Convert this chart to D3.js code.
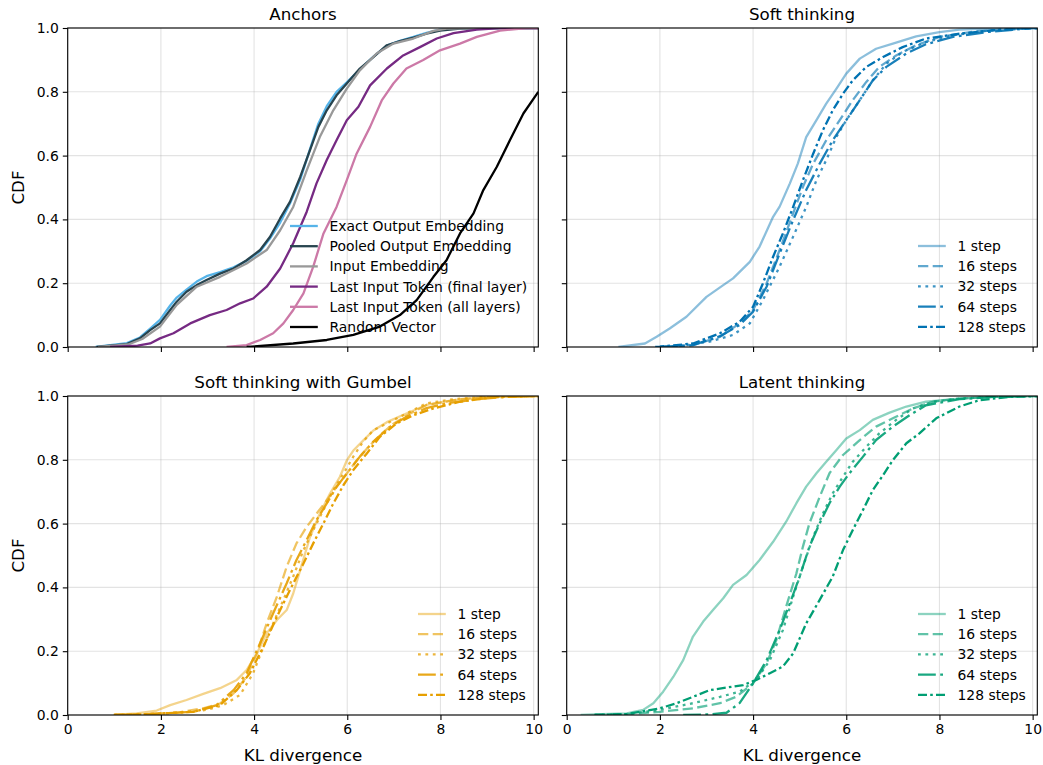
<!DOCTYPE html>
<html><head><meta charset="utf-8">
<script src="https://cdn.jsdelivr.net/npm/d3@7"></script>
<style>body{margin:0;background:#fff} text{font-family:"DejaVu Sans",sans-serif;fill:#000}</style>
</head><body>
<svg id="c" width="1043" height="765"></svg>
<script>
// ---------- data ----------
const xTicks = [0, 2, 4, 6, 8, 10];
const yTicks = [0.0, 0.2, 0.4, 0.6, 0.8, 1.0];
const panelTitles = ["Anchors", "Soft thinking", "Soft thinking with Gumbel", "Latent thinking"];
const anchorNames = ["Exact Output Embedding", "Pooled Output Embedding", "Input Embedding",
  "Last Input Token (final layer)", "Last Input Token (all layers)", "Random Vector"];
const stepNames = ["1 step", "16 steps", "32 steps", "64 steps", "128 steps"];

const exactOutput = [[0.6,0],[1.27,0.012],[1.55,0.03],[1.77,0.058],[1.98,0.085],[2.2,0.13],[2.34,0.155],[2.55,0.18],[2.77,0.205],[2.98,0.222],[3.27,0.235],[3.56,0.25],[3.84,0.27],[4.13,0.3],[4.34,0.34],[4.56,0.39],[4.77,0.45],[4.99,0.525],[5.2,0.62],[5.38,0.7],[5.56,0.755],[5.77,0.8],[5.99,0.83],[6.27,0.87],[6.56,0.91],[6.85,0.945],[7.13,0.96],[7.42,0.972],[7.7,0.985],[7.99,0.995],[8.3,1],[10.1,1]];
const pooledOutput = [[0.62,0],[1.27,0.009],[1.55,0.027],[1.77,0.053],[1.98,0.074],[2.2,0.116],[2.34,0.142],[2.55,0.173],[2.77,0.194],[2.98,0.21],[3.27,0.23],[3.56,0.246],[3.84,0.272],[4.13,0.304],[4.34,0.345],[4.56,0.403],[4.77,0.455],[4.99,0.533],[5.2,0.617],[5.38,0.69],[5.56,0.742],[5.77,0.789],[5.99,0.826],[6.27,0.873],[6.56,0.909],[6.85,0.946],[7.13,0.959],[7.42,0.97],[7.7,0.982],[7.99,0.992],[8.42,0.998],[9.06,1],[10.1,1]];
const inputEmb = [[0.65,0],[1.3,0.008],[1.6,0.025],[1.98,0.064],[2.34,0.132],[2.77,0.189],[3.27,0.22],[3.84,0.262],[4.27,0.304],[4.56,0.366],[4.84,0.439],[5.13,0.554],[5.41,0.658],[5.7,0.742],[5.99,0.81],[6.27,0.867],[6.63,0.92],[6.99,0.951],[7.42,0.967],[7.85,0.991],[8.13,0.998],[8.8,1],[10.1,1]];
const lastFinal = [[0.91,0],[1.5,0.004],[1.77,0.011],[1.98,0.027],[2.27,0.043],[2.63,0.074],[3.05,0.1],[3.41,0.116],[3.7,0.137],[3.98,0.152],[4.27,0.189],[4.56,0.246],[4.84,0.325],[5.13,0.424],[5.34,0.513],[5.56,0.586],[5.77,0.648],[5.99,0.711],[6.24,0.753],[6.49,0.82],[6.85,0.873],[7.2,0.914],[7.56,0.94],[7.92,0.967],[8.28,0.984],[8.78,0.995],[9.28,1],[10.1,1]];
const lastAll = [[3.41,0],[3.84,0.006],[4.13,0.022],[4.41,0.043],[4.63,0.074],[4.84,0.116],[5.06,0.168],[5.27,0.252],[5.49,0.356],[5.77,0.439],[5.99,0.523],[6.2,0.606],[6.49,0.69],[6.74,0.773],[6.99,0.826],[7.27,0.873],[7.63,0.9],[7.99,0.93],[8.42,0.951],[8.78,0.972],[9.28,0.992],[9.85,1],[10.1,1]];
const randomVec = [[3.84,0],[4.84,0.011],[5.56,0.022],[6.13,0.038],[6.7,0.064],[7.13,0.1],[7.49,0.147],[7.85,0.22],[8.13,0.272],[8.42,0.356],[8.71,0.419],[8.92,0.492],[9.21,0.565],[9.49,0.648],[9.78,0.732],[10.1,0.8]];

const soft1 = [[1.11,0],[1.68,0.011],[1.93,0.032],[2.21,0.058],[2.57,0.095],[3.0,0.157],[3.36,0.194],[3.57,0.215],[3.93,0.267],[4.14,0.315],[4.43,0.408],[4.57,0.44],[4.79,0.513],[4.96,0.575],[5.14,0.658],[5.36,0.711],[5.57,0.763],[5.79,0.81],[6.0,0.857],[6.29,0.904],[6.64,0.935],[7.0,0.951],[7.5,0.974],[8.0,0.987],[8.43,0.995],[9.14,0.999],[10.1,1]];
const soft16 = [[2.0,0],[2.71,0.006],[3.29,0.032],[3.71,0.074],[4.0,0.116],[4.29,0.199],[4.57,0.304],[4.86,0.419],[5.07,0.502],[5.29,0.575],[5.57,0.648],[5.86,0.711],[6.14,0.774],[6.43,0.831],[6.71,0.878],[7.07,0.914],[7.5,0.946],[8.0,0.972],[8.79,0.99],[10,1],[10.1,1]];
const soft32 = [[2.1,0],[2.36,0.001],[3.07,0.017],[3.57,0.038],[3.93,0.074],[4.21,0.147],[4.57,0.252],[4.86,0.346],[5.14,0.439],[5.36,0.523],[5.57,0.586],[5.79,0.659],[6.0,0.711],[6.29,0.774],[6.57,0.836],[6.86,0.888],[7.21,0.925],[7.71,0.956],[8.29,0.977],[9.0,0.991],[10,1],[10.1,1]];
const soft64 = [[2.0,0],[2.71,0.006],[3.29,0.034],[3.71,0.069],[4.0,0.111],[4.29,0.189],[4.57,0.293],[4.86,0.398],[5.14,0.492],[5.43,0.575],[5.71,0.648],[6.0,0.711],[6.29,0.774],[6.57,0.836],[6.86,0.878],[7.29,0.92],[7.71,0.949],[8.29,0.972],[9.0,0.987],[10,1],[10.1,1]];
const soft128 = [[1.9,0],[2.0,0.001],[2.71,0.011],[3.29,0.043],[3.71,0.079],[4.0,0.126],[4.21,0.199],[4.43,0.283],[4.64,0.356],[4.86,0.439],[5.07,0.523],[5.29,0.606],[5.5,0.68],[5.71,0.742],[5.93,0.794],[6.14,0.836],[6.43,0.878],[6.79,0.909],[7.21,0.94],[7.71,0.967],[8.43,0.982],[9.14,0.993],[10,1],[10.1,1]];

const gum1 = [[0.98,0],[1.48,0.005],[1.91,0.014],[2.2,0.031],[2.55,0.047],[2.91,0.066],[3.27,0.084],[3.63,0.11],[3.84,0.141],[4.06,0.193],[4.27,0.256],[4.49,0.298],[4.7,0.329],[4.84,0.381],[4.99,0.454],[5.2,0.558],[5.41,0.631],[5.63,0.694],[5.84,0.746],[5.99,0.798],[6.13,0.829],[6.34,0.86],[6.56,0.892],[6.85,0.918],[7.27,0.945],[7.7,0.972],[8.28,0.987],[9.0,0.997],[10.1,1]];
const gum16 = [[1.0,0],[1.62,0.002],[2.34,0.007],[2.91,0.021],[3.27,0.036],[3.56,0.068],[3.84,0.12],[4.06,0.193],[4.27,0.287],[4.49,0.371],[4.7,0.465],[4.91,0.538],[5.13,0.59],[5.34,0.631],[5.56,0.673],[5.77,0.715],[5.99,0.757],[6.2,0.798],[6.42,0.835],[6.7,0.877],[6.99,0.913],[7.35,0.945],[7.7,0.972],[8.42,0.99],[9.1,0.998],[10.1,1]];
const gum32 = [[1.0,0],[1.62,0.002],[2.34,0.007],[2.98,0.016],[3.34,0.031],[3.7,0.063],[3.98,0.131],[4.2,0.214],[4.41,0.287],[4.63,0.361],[4.84,0.434],[5.06,0.517],[5.27,0.58],[5.49,0.643],[5.7,0.705],[5.92,0.757],[6.13,0.81],[6.34,0.857],[6.56,0.893],[6.92,0.919],[7.27,0.945],[7.7,0.977],[8.28,0.99],[9.0,0.998],[10.1,1]];
const gum64 = [[1.0,0],[1.62,0.002],[2.7,0.01],[3.2,0.031],[3.56,0.078],[3.84,0.131],[4.13,0.225],[4.41,0.319],[4.7,0.413],[4.91,0.486],[5.13,0.549],[5.34,0.611],[5.56,0.663],[5.77,0.715],[5.99,0.757],[6.27,0.81],[6.56,0.857],[6.92,0.904],[7.27,0.935],[7.7,0.962],[8.13,0.977],[8.78,0.99],[9.5,0.998],[10.1,1]];
const gum128 = [[1.0,0],[1.62,0.002],[2.7,0.01],[3.27,0.031],[3.63,0.078],[3.91,0.131],[4.2,0.214],[4.49,0.308],[4.77,0.392],[5.06,0.475],[5.27,0.538],[5.49,0.601],[5.7,0.663],[5.92,0.721],[6.13,0.768],[6.42,0.82],[6.7,0.872],[7.06,0.914],[7.42,0.94],[7.85,0.961],[8.42,0.982],[9.1,0.996],[10.1,1]];

const lat1 = [[0.3,0],[0.57,0.002],[1.29,0.005],[1.64,0.016],[1.86,0.037],[2.07,0.073],[2.29,0.12],[2.5,0.172],[2.71,0.246],[2.93,0.293],[3.14,0.329],[3.36,0.366],[3.57,0.408],[3.86,0.439],[4.14,0.486],[4.43,0.543],[4.71,0.606],[4.93,0.664],[5.14,0.716],[5.36,0.758],[5.57,0.794],[5.79,0.831],[6.0,0.867],[6.29,0.893],[6.57,0.925],[6.93,0.948],[7.29,0.967],[7.71,0.982],[8.43,0.992],[9.14,0.997],[10.1,1]];
const lat16 = [[0.6,0],[1.29,0.003],[2.0,0.01],[2.71,0.021],[3.29,0.037],[3.64,0.057],[4.0,0.099],[4.29,0.162],[4.5,0.235],[4.71,0.34],[4.93,0.444],[5.07,0.528],[5.21,0.601],[5.43,0.684],[5.64,0.758],[5.93,0.815],[6.29,0.862],[6.64,0.904],[7.0,0.93],[7.43,0.961],[7.86,0.982],[8.43,0.992],[9.14,0.997],[10.1,1]];
const lat32 = [[0.6,0],[1.29,0.003],[2.0,0.016],[2.71,0.037],[3.29,0.057],[3.71,0.073],[4.07,0.11],[4.36,0.172],[4.64,0.266],[4.86,0.371],[5.07,0.465],[5.29,0.559],[5.5,0.632],[5.71,0.695],[5.93,0.747],[6.14,0.794],[6.43,0.841],[6.71,0.883],[7.07,0.925],[7.43,0.961],[7.86,0.982],[8.43,0.992],[9.14,0.997],[10.1,1]];
const lat64 = [[2.5,0],[3.07,0.002],[3.43,0.007],[3.71,0.037],[4.0,0.099],[4.29,0.172],[4.57,0.266],[4.79,0.35],[5.0,0.434],[5.21,0.528],[5.43,0.601],[5.64,0.664],[5.86,0.716],[6.07,0.758],[6.36,0.81],[6.64,0.862],[7.0,0.904],[7.36,0.94],[7.71,0.971],[8.43,0.99],[9.14,0.997],[10.1,1]];
const lat128 = [[0.6,0],[1.29,0.003],[2.0,0.021],[2.36,0.037],[2.71,0.057],[3.07,0.078],[3.43,0.086],[3.79,0.094],[4.07,0.11],[4.36,0.131],[4.64,0.152],[4.86,0.193],[5.14,0.287],[5.43,0.361],[5.71,0.434],[5.93,0.517],[6.14,0.58],[6.36,0.643],[6.57,0.705],[6.79,0.752],[7.0,0.799],[7.29,0.852],[7.57,0.883],[7.93,0.93],[8.43,0.967],[8.86,0.987],[9.5,0.997],[10.1,1]];

// ---------- styles ----------
const DASH = {solid: null, dashed: "10.3,4.4", dotted: "2.8,4.6", dashdot: "17.8,4.4,2.8,4.4", dashdotfine: "9,3.2,2.6,3.2"};
const stepDash = [DASH.solid, DASH.dashed, DASH.dotted, DASH.dashdot, DASH.dashdotfine];
const stepAlpha = [0.45, 0.62, 0.76, 0.9, 1.0];

const panels = [
  {title: panelTitles[0], x: 67.7, y: 28, series: [
    {name: anchorNames[0], data: exactOutput, color: "#56b4e9", dash: null, a: 1},
    {name: anchorNames[1], data: pooledOutput, color: "#27444f", dash: null, a: 1},
    {name: anchorNames[2], data: inputEmb, color: "#999999", dash: null, a: 1},
    {name: anchorNames[3], data: lastFinal, color: "#762a83", dash: null, a: 1},
    {name: anchorNames[4], data: lastAll, color: "#cc79a7", dash: null, a: 1},
    {name: anchorNames[5], data: randomVec, color: "#000000", dash: null, a: 1}],
   legend: {x: 290, y: 226}, ylab: true, xlab: false},
  {title: panelTitles[1], x: 566.7, y: 28, series: [soft1, soft16, soft32, soft64, soft128].map((d,i)=>({name: stepNames[i], data: d, color: "#0072b2", dash: stepDash[i], a: stepAlpha[i]})),
   legend: {x: 918, y: 246}, ylab: false, xlab: false},
  {title: panelTitles[2], x: 67.7, y: 396, series: [gum1, gum16, gum32, gum64, gum128].map((d,i)=>({name: stepNames[i], data: d, color: "#e69f00", dash: stepDash[i], a: stepAlpha[i]})),
   legend: {x: 418, y: 614}, ylab: true, xlab: true},
  {title: panelTitles[3], x: 566.7, y: 396, series: [lat1, lat16, lat32, lat64, lat128].map((d,i)=>({name: stepNames[i], data: d, color: "#009e73", dash: stepDash[i], a: stepAlpha[i]})),
   legend: {x: 918, y: 614}, ylab: false, xlab: true}
];

const W = 470.6, H = 319;
const svg = d3.select("#c");
const LW = 2.3;

panels.forEach((p, pi) => {
  const g = svg.append("g").attr("transform", `translate(${p.x},${p.y})`);
  const x = d3.scaleLinear().domain([0, 10.1]).range([0, W]);
  const y = d3.scaleLinear().domain([0, 1]).range([H, 0]);
  // grid
  g.append("g").selectAll("line").data(xTicks).join("line")
    .attr("x1", d => x(d)).attr("x2", d => x(d)).attr("y1", 0).attr("y2", H)
    .attr("stroke", "#b0b0b0").attr("stroke-opacity", 0.35).attr("stroke-width", 1.1);
  g.append("g").selectAll("line").data(yTicks).join("line")
    .attr("y1", d => y(d)).attr("y2", d => y(d)).attr("x1", 0).attr("x2", W)
    .attr("stroke", "#b0b0b0").attr("stroke-opacity", 0.35).attr("stroke-width", 1.1);
  // clip
  svg.append("clipPath").attr("id", "clip" + pi).append("rect").attr("width", W).attr("height", H);
  const lines = g.append("g").attr("clip-path", `url(#clip${pi})`);
  const line = d3.line().x(d => x(d[0])).y(d => y(d[1]));
  p.series.forEach(s => {
    lines.append("path").attr("d", line(s.data)).attr("fill", "none")
      .attr("stroke", s.color).attr("stroke-opacity", s.a).attr("stroke-width", LW)
      .attr("stroke-dasharray", s.dash).attr("stroke-linejoin", "round");
  });
  // axes
  const ax = d3.axisBottom(x).tickValues(xTicks).tickSize(4.9).tickPadding(4).tickFormat(p.xlab ? d3.format("d") : () => "");
  const ay = d3.axisLeft(y).tickValues(yTicks).tickSize(4.9).tickPadding(4).tickFormat(p.ylab ? d3.format(".1f") : () => "");
  const gx = g.append("g").attr("transform", `translate(0,${H})`).call(ax);
  const gy = g.append("g").call(ay);
  [gx, gy].forEach(a => {
    a.select(".domain").remove();
    a.selectAll(".tick line").attr("stroke", "#000").attr("stroke-width", 1.1);
    a.selectAll("text").attr("font-size", 13.9).attr("font-family", "DejaVu Sans").attr("fill", "#000");
  });
  g.append("rect").attr("width", W).attr("height", H).attr("fill", "none").attr("stroke", "#000").attr("stroke-width", 1.1);
  // title
  g.append("text").attr("x", W / 2).attr("y", -8.5).attr("text-anchor", "middle").attr("font-size", 16.7).text(p.title);
  if (p.xlab) g.append("text").attr("x", W / 2).attr("y", H + 46).attr("text-anchor", "middle").attr("font-size", 16.7).text("KL divergence");
  if (p.ylab) g.append("text").attr("transform", `translate(-44,${H / 2}) rotate(-90)`).attr("text-anchor", "middle").attr("font-size", 16.7).text("CDF");
  // legend
  const lg = svg.append("g").attr("transform", `translate(${p.legend.x},${p.legend.y})`);
  p.series.forEach((s, i) => {
    const row = lg.append("g").attr("transform", `translate(0,${i * 20.2})`);
    row.append("line").attr("x1", 0).attr("x2", 27.8).attr("y1", 0).attr("y2", 0)
      .attr("stroke", s.color).attr("stroke-opacity", s.a).attr("stroke-width", LW).attr("stroke-dasharray", s.dash);
    row.append("text").attr("x", 39.5).attr("y", 0).attr("dy", "0.36em").attr("font-size", 13.9).text(s.name);
  });
});
</script>
</body></html>
